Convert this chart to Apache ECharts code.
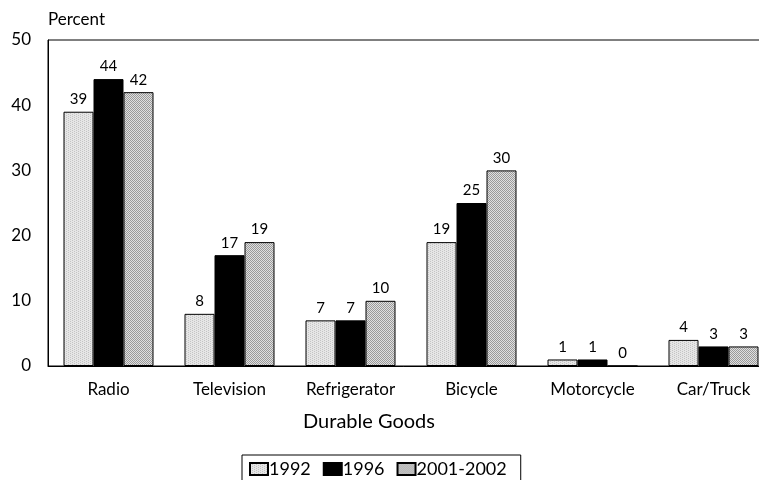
<!DOCTYPE html>
<html lang="en">
<head>
<meta charset="UTF-8">
<title>Durable Goods</title>
<script src="https://cdn.jsdelivr.net/npm/echarts@6/dist/echarts.min.js"></script>
</head>
<body style="margin:0">
<div id="chart" style="width:759px;height:480px"></div>
<script>
    // data
    let categories = ['Radio', 'Television', 'Refrigerator', 'Bicycle', 'Motorcycle', 'Car/Truck'];
    let seriesNames = ['1992', '1996', '2001-2002'];
    let v1992 = [39, 8, 7, 19, 1, 4];
    let v1996 = [44, 17, 7, 25, 1, 3];
    let v2001 = [42, 19, 10, 30, 0, 3];

    // little pixel patterns for the grey fills
    function makePattern(bg, fg, cells) {
        let c = document.createElement('canvas');
        c.width = 4; c.height = 4;
        let ctx = c.getContext('2d');
        ctx.fillStyle = bg;
        ctx.fillRect(0, 0, 4, 4);
        ctx.fillStyle = fg;
        cells.forEach(function (p) { ctx.fillRect(p[0], p[1], 1, 1); });
        return {image: c, repeat: 'repeat'};
    }
    let fill1992 = makePattern('#e6e6e6', '#c4c4c4', [[0, 0], [2, 1], [0, 2], [2, 3]]);
    let fill2001 = makePattern('#e0e0e0', '#9a9a9a', [[0, 0], [2, 0], [1, 1], [3, 1], [0, 2], [2, 2], [1, 3], [3, 3]]);
    let fills = [fill1992, '#000000', fill2001];
    let values = [v1992, v1996, v2001];

    let font = 'Lato';
    let myChart = echarts.init(document.getElementById('chart'));
    let option = {
        animation: false,
        textStyle: {fontFamily: font, color: '#000'},
        grid: {left: 48, right: -15, top: 40, bottom: 114, outerBoundsMode: 'none',
            show: true, borderColor: '#000', borderWidth: 1},
        legend: {
            data: seriesNames,
            left: 242, top: 455,
            itemWidth: 18, itemHeight: 12, itemGap: 12,
            padding: [5, 14, 8, 7],
            borderColor: '#000', borderWidth: 1,
            textStyle: {fontFamily: font, fontSize: 18, color: '#000', padding: [0, 0, 0, -4]},
            icon: 'rect'
        },
        xAxis: {
            type: 'category',
            data: categories,
            name: 'Durable Goods',
            nameLocation: 'middle',
            nameGap: 46,
            nameTextStyle: {fontFamily: font, fontSize: 20, color: '#000', padding: [0, 84, 0, 0]},
            axisLine: {lineStyle: {color: '#000'}},
            axisTick: {show: false},
            axisLabel: {fontFamily: font, fontSize: 17, color: '#000', margin: 15}
        },
        yAxis: {
            type: 'value',
            min: 0, max: 50, interval: 10,
            name: 'Percent',
            nameGap: 12,
            nameTextStyle: {fontFamily: font, fontSize: 17, color: '#000', align: 'left'},
            axisLine: {show: true, lineStyle: {color: '#000'}},
            axisTick: {show: false},
            splitLine: {show: false},
            axisLabel: {fontFamily: font, fontSize: 17, color: '#000', margin: 17}
        },
        series: seriesNames.map(function (name, i) {
            return {
                name: name,
                type: 'bar',
                data: values[i],
                barWidth: 30,
                barGap: '0%',
                itemStyle: {color: fills[i], borderColor: '#000', borderWidth: 1},
                label: {show: true, position: 'top', distance: 5, fontFamily: font, fontSize: 15, color: '#000'}
            };
        })
    };
    myChart.setOption(option);
</script>
</body>
</html>
